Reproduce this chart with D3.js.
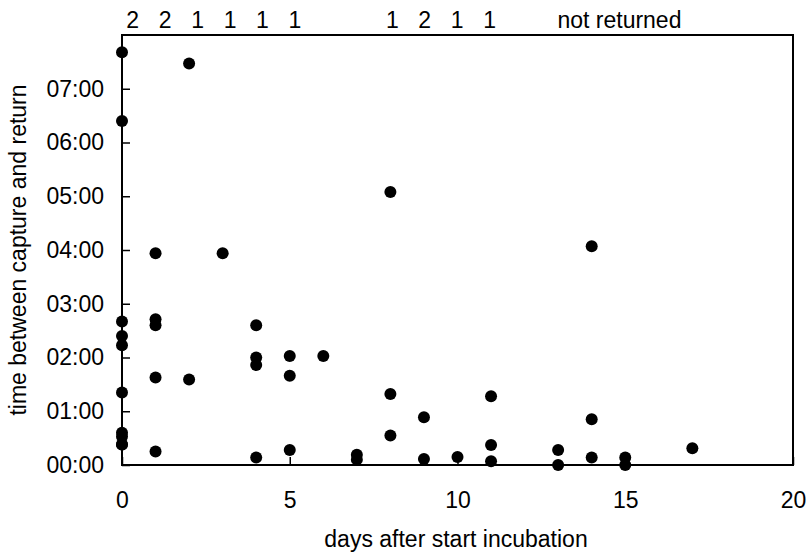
<!DOCTYPE html>
<html><head><meta charset="utf-8">
<script src="https://cdn.jsdelivr.net/npm/d3@7"></script>
<style>
html,body{margin:0;padding:0;background:#fff;}
text{font-family:Arial,"Liberation Sans",sans-serif;fill:#000;}
</style></head>
<body><svg id="c" width="808" height="554"></svg>
<script>
// data: day after start incubation, time between capture and return (hours)
const days  = [0,0,0,0,0,0,0,0,0,0, 1,1,1,1,1, 2,2, 3, 4,4,4,4, 5,5,5, 6, 7,7, 8,8,8, 9,9, 10, 11,11,11, 13,13, 14,14,14, 15,15, 17];
const hours = [7.68,6.40,2.67,2.40,2.23,1.35,0.60,0.53,0.38,0.38, 3.94,2.71,2.60,1.63,0.25, 7.47,1.59, 3.94, 2.60,2.00,1.86,0.14, 2.03,1.66,0.28, 2.03, 0.19,0.10, 5.08,1.32,0.55, 0.89,0.11, 0.15, 1.28,0.37,0.07, 0.28,0.00, 4.07,0.85,0.14, 0.14,0.00, 0.31];
const xTicks = [0,5,10,15,20];
const yTicks = [0,1,2,3,4,5,6,7];
const yTickLabels = ["00:00","01:00","02:00","03:00","04:00","05:00","06:00","07:00"];
const topDays   = [0,1,2,3,4,5,8,9,10,11];
const topCounts = ["2","2","1","1","1","1","1","2","1","1"];
const notReturnedDay = 15;
const notReturnedLabel = "not returned";
const xTitle = "days after start incubation";
const yTitle = "time between capture and return";

const svg = d3.select("#c");
const m = {l:122, t:35, r:793, b:465};
const x = d3.scaleLinear().domain([0,20]).range([m.l, m.r]);
const y = d3.scaleLinear().domain([0,8]).range([m.b, m.t]);
const xLab = d3.scaleLinear().domain([0,20]).range([132.7, 781.7]);
const fs = 23;

// frame
svg.append("rect").attr("x",m.l).attr("y",m.t).attr("width",m.r-m.l).attr("height",m.b-m.t)
  .attr("fill","none").attr("stroke","#000").attr("stroke-width",2);

// x axis
const xa = svg.append("g").attr("transform",`translate(0,${m.b})`)
  .call(d3.axisBottom(x).tickValues(xTicks).tickSize(-8).tickPadding(27).tickFormat(d3.format("d")));
xa.select(".domain").remove();
xa.selectAll("line").attr("stroke","#000").attr("stroke-width",1.5);
xa.selectAll("text").attr("font-size",fs).attr("font-family",null);

// y axis
const ya = svg.append("g").attr("transform",`translate(${m.l},0)`)
  .call(d3.axisLeft(y).tickValues(yTicks).tickSize(-8).tickPadding(18).tickFormat((d,i)=>yTickLabels[i]));
ya.select(".domain").remove();
ya.selectAll("line").attr("stroke","#000").attr("stroke-width",1.5);
ya.selectAll("text").attr("font-size",fs).attr("font-family",null);

// points
svg.append("g").selectAll("circle").data(days.map((d,i)=>[d,hours[i]])).join("circle")
  .attr("cx",d=>x(d[0])).attr("cy",d=>y(d[1])).attr("r",6).attr("fill","#000");

// top labels
svg.append("g").selectAll("text").data(topDays).join("text")
  .attr("x",d=>xLab(d)).attr("y",28).attr("text-anchor","middle").attr("font-size",fs)
  .text((d,i)=>topCounts[i]);
svg.append("text").attr("x",xLab(notReturnedDay)).attr("y",28).attr("text-anchor","middle")
  .attr("font-size",fs).text(notReturnedLabel);

// titles
svg.append("text").attr("x",456).attr("y",547).attr("text-anchor","middle")
  .attr("font-size",fs).text(xTitle);
svg.append("text").attr("transform",`translate(26,${(m.t+m.b)/2}) rotate(-90)`)
  .attr("text-anchor","middle").attr("font-size",fs).text(yTitle);
</script></body></html>
